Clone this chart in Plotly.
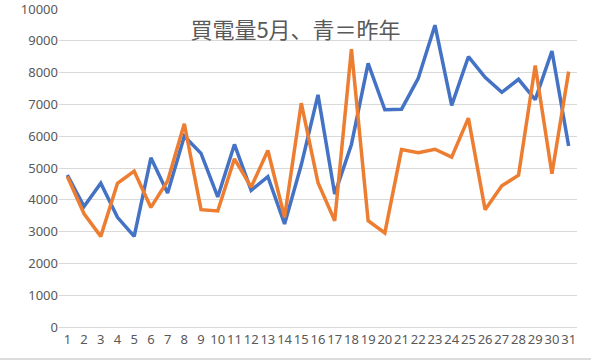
import plotly.graph_objects as go

days = [str(d) for d in range(1, 32)]
last_year = [4780, 3790, 4520, 3450, 2850, 5320, 4210, 6000, 5460, 4090,
             5740, 4300, 4730, 3240, 5100, 7300, 4180, 5740, 8290, 6830,
             6850, 7820, 9490, 6970, 8500, 7850, 7380, 7790, 7150, 8680, 5690]
this_year = [4730, 3560, 2850, 4520, 4900, 3760, 4590, 6390, 3690, 3650,
             5290, 4400, 5550, 3450, 7040, 4540, 3340, 8740, 3340, 2960,
             5580, 5480, 5590, 5340, 6570, 3690, 4440, 4770, 8220, 4820, 8030]
title_text = "買電量5月、青＝昨年"
y_ticks = list(range(0, 10001, 1000))
y_labels = [str(v) for v in y_ticks]

fig = go.Figure()
fig.add_trace(go.Scatter(x=days, y=last_year, mode="lines", name="昨年",
                         line=dict(color="#4472C4", width=3.5)))
fig.add_trace(go.Scatter(x=days, y=this_year, mode="lines", name="今年",
                         line=dict(color="#ED7D31", width=3.5)))

fig.update_layout(
    width=591, height=360,
    margin=dict(l=59, r=14, t=9, b=33, autoexpand=False),
    paper_bgcolor="white", plot_bgcolor="white",
    showlegend=False,
    font=dict(family="Noto Sans, Noto Sans CJK JP", color="#595959", size=13),
    title=dict(text=title_text, x=0.5, xanchor="center", y=1 - 30/360, yanchor="middle",
               font=dict(family="Noto Sans CJK JP", size=22, color="#595959")),
    shapes=[dict(type="rect", xref="paper", yref="paper", x0=-0.2, x1=1.1,
                 y0=-33/318, y1=-31/318, fillcolor="#DCDCDC", line=dict(width=0),
                 layer="above")],
)
fig.update_xaxes(type="category", range=[-0.5, 30.5], tickangle=0, showgrid=False,
                 showline=True, linecolor="#D9D9D9", linewidth=1, ticks="",
                 zeroline=False, automargin=False,
                 tickfont=dict(size=13, color="#595959"))
fig.update_yaxes(range=[0, 10000], tickvals=y_ticks, ticktext=y_labels,
                 showgrid=True, gridcolor="#D9D9D9",
                 gridwidth=1, zeroline=False, showline=False, ticks="", automargin=False,
                 ticklabeloverflow="allow",
                 tickfont=dict(size=13, color="#595959"))

fig.write_html("out.html", config={"displayModeBar": False},
               post_script="document.body.style.margin='0';")
